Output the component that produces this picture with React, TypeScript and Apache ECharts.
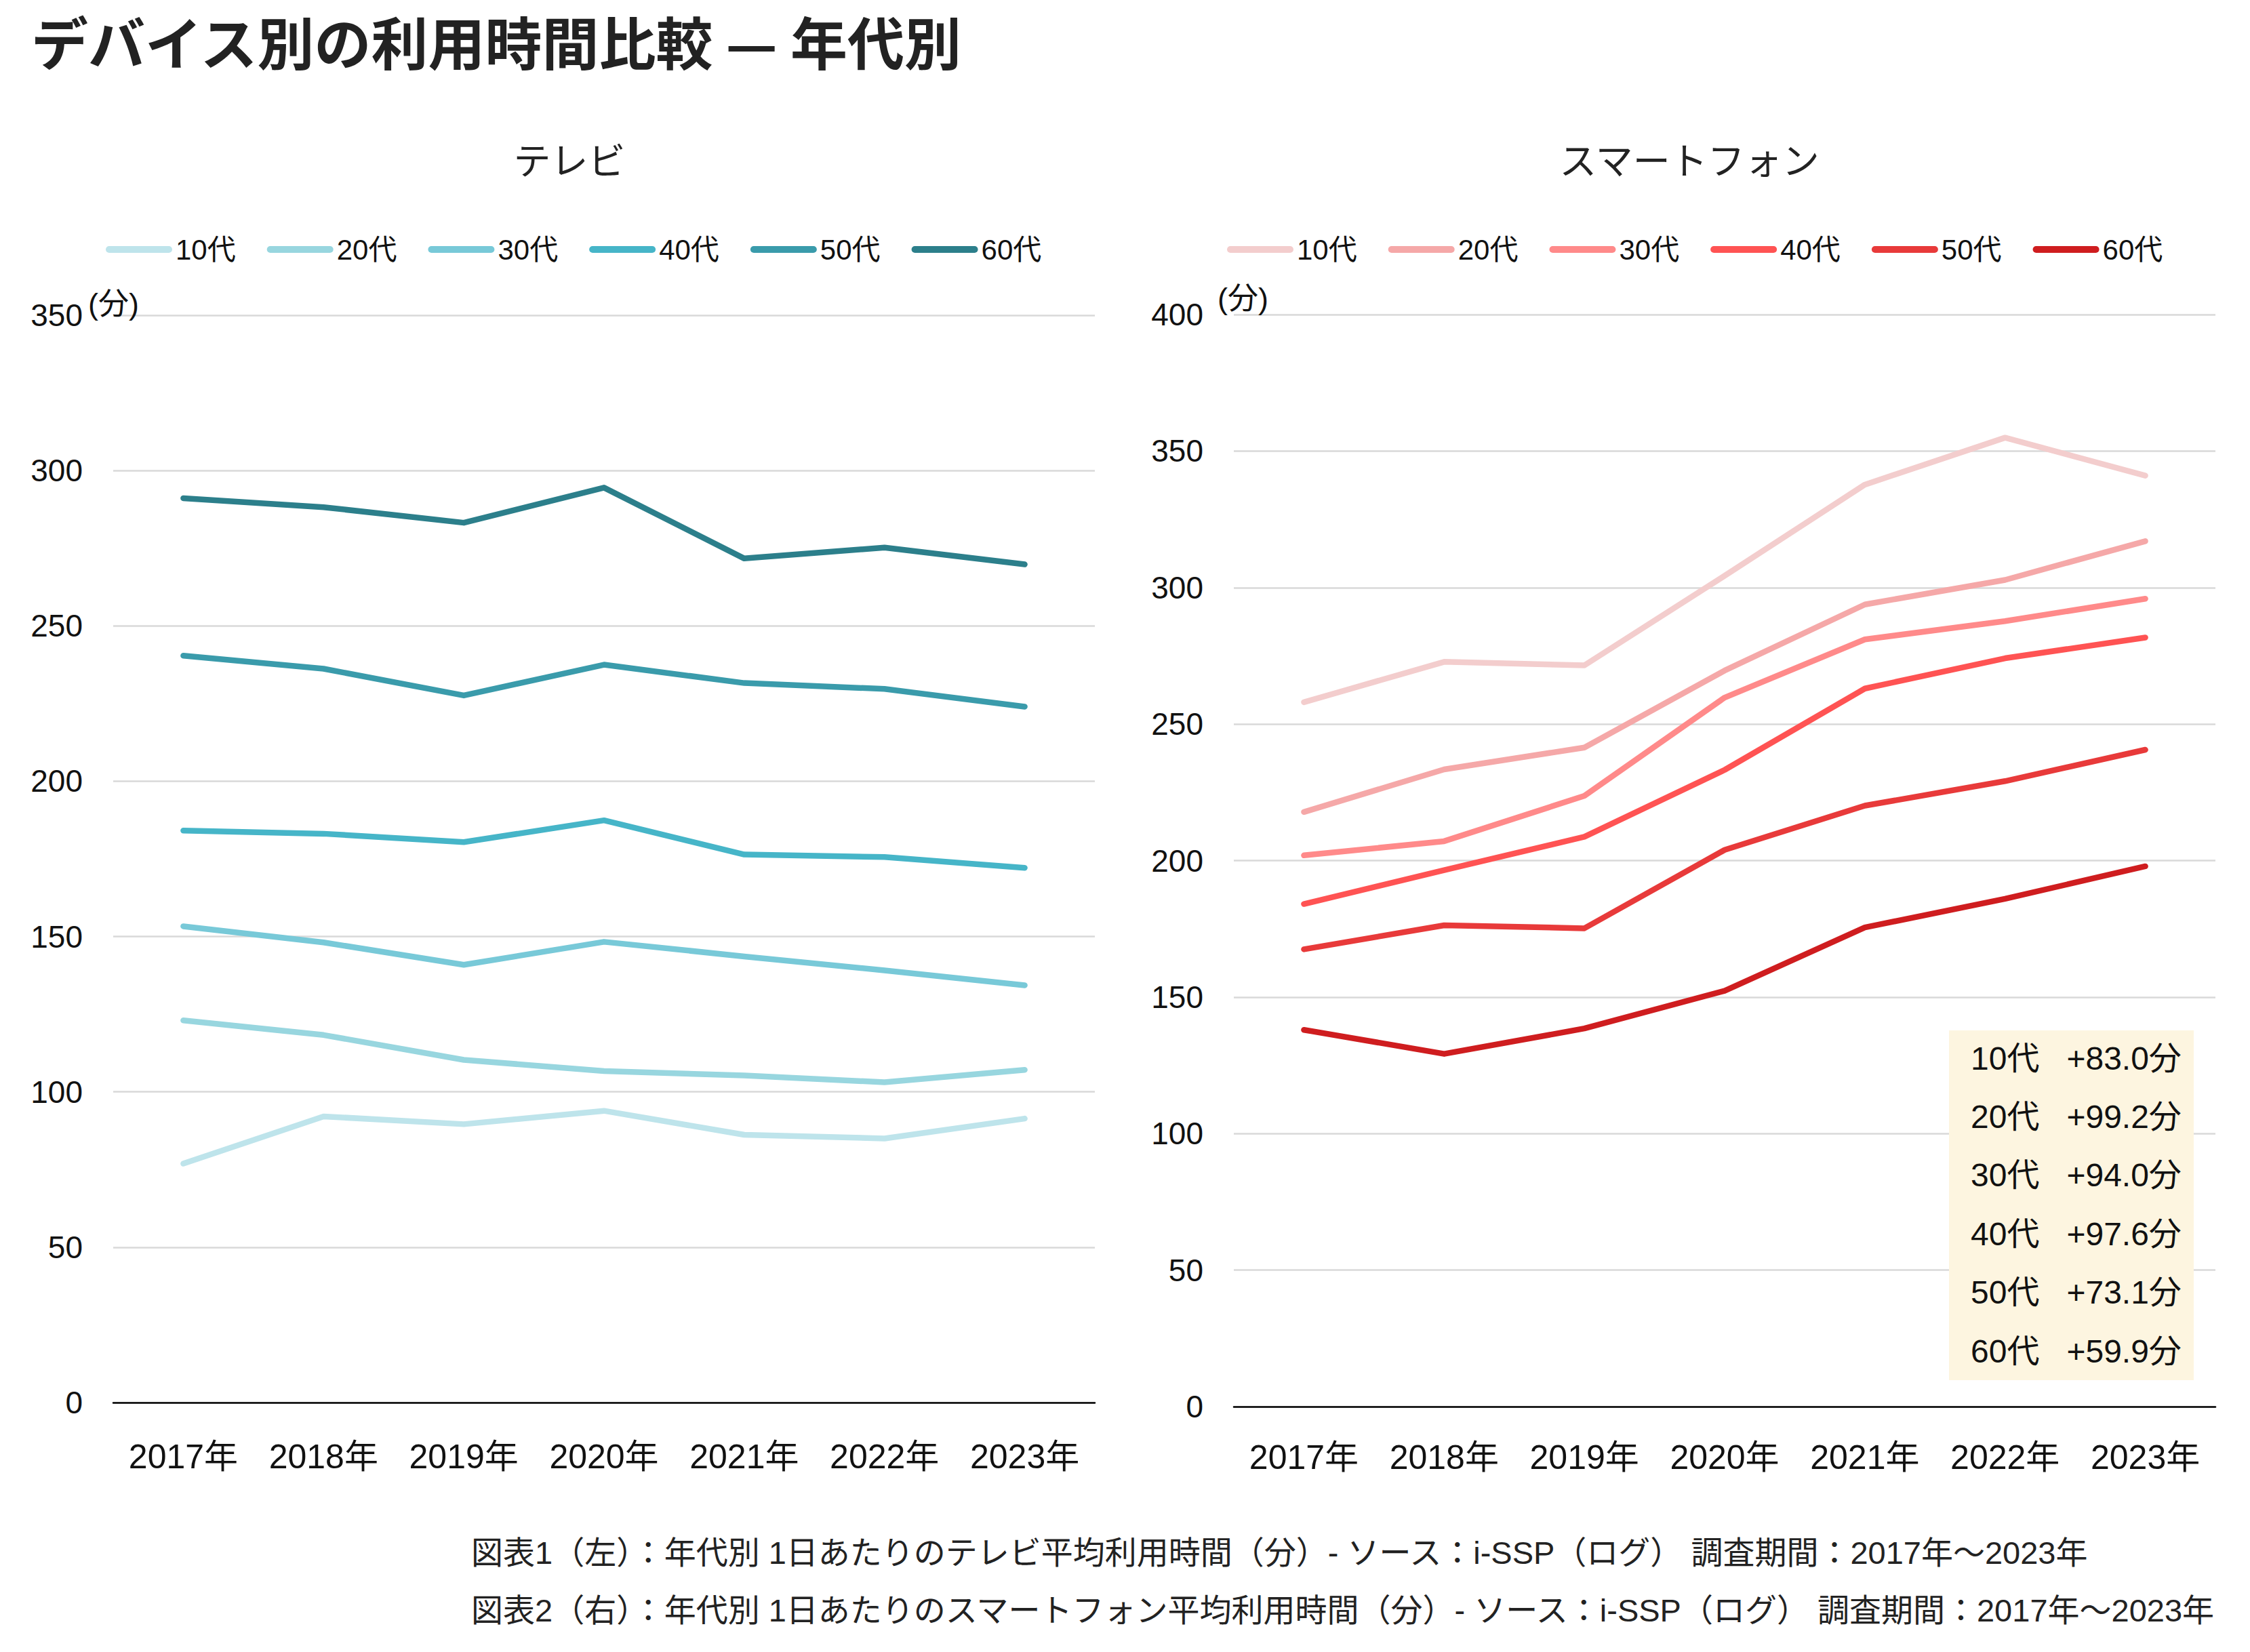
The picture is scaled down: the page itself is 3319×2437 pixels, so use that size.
import React, { useEffect, useRef } from "react";
import * as echarts from "echarts";

// Categories
const years = ["2017年", "2018年", "2019年", "2020年", "2021年", "2022年", "2023年"];
const ageGroups = ["10代", "20代", "30代", "40代", "50代", "60代"];

// TV viewing time by age group (minutes per day)
const tv10 = [76.9, 92.1, 89.6, 93.9, 86.2, 85.0, 91.4];
const tv20 = [123.0, 118.3, 110.3, 106.7, 105.3, 103.1, 107.1];
const tv30 = [153.3, 148.1, 140.9, 148.3, 143.6, 139.1, 134.3];
const tv40 = [184.1, 183.1, 180.4, 187.4, 176.4, 175.6, 172.1];
const tv50 = [240.4, 236.2, 227.6, 237.5, 231.6, 229.7, 224.0];
const tv60 = [291.1, 288.2, 283.2, 294.5, 271.7, 275.2, 269.8];

// Smartphone usage time by age group (minutes per day)
const sp10 = [258.0, 272.8, 271.5, 304.3, 337.7, 354.9, 341.0];
const sp20 = [217.8, 233.4, 241.4, 269.6, 293.8, 302.8, 317.0];
const sp30 = [201.9, 207.1, 223.7, 259.7, 281.0, 287.7, 295.9];
const sp40 = [184.1, 196.5, 208.7, 233.2, 263.0, 274.1, 281.7];
const sp50 = [167.5, 176.3, 175.2, 203.9, 220.1, 229.1, 240.6];
const sp60 = [138.0, 129.2, 138.5, 152.3, 175.5, 186.0, 197.9];

// Y-axis ranges
const tvAxisMax = 350;
const spAxisMax = 400;
const axisStep = 50;

const tvSeries = [tv10, tv20, tv30, tv40, tv50, tv60];
const spSeries = [sp10, sp20, sp30, sp40, sp50, sp60];

const tvColors = ["#bee4eb", "#98d6df", "#78c9d8", "#46b5c8", "#3a9bab", "#2c7f8b"];
const spColors = ["#f3cdcd", "#f5a8a8", "#ff8a8a", "#ff5353", "#e83a3a", "#cf1d1f"];

const TV_LABEL = "テレビ";
const SP_LABEL = "スマートフォン";

const LATIN = "'Liberation Sans', 'Noto Sans CJK JP', sans-serif";
const CJK = "'Noto Sans CJK JP', sans-serif";

const PILL = "path://M5,0L93,0A5,5,0,0,1,93,10L5,10A5,5,0,0,1,5,0Z";

function seriesName(device: string, age: string) {
  return device + "・" + age;
}

function buildOption() {
  const tvNames = ageGroups.map((a) => seriesName(TV_LABEL, a));
  const spNames = ageGroups.map((a) => seriesName(SP_LABEL, a));

  const lineSeries = (names: string[], values: number[][], colors: string[], idx: number) =>
    names.map((name, i) => ({
      name,
      type: "line",
      xAxisIndex: idx,
      yAxisIndex: idx,
      data: values[i],
      symbol: "none",
      lineStyle: { width: 8.5, color: colors[i], cap: "round", join: "round" },
      itemStyle: { color: colors[i] },
      z: 3,
    }));

  const legendBase = {
    icon: PILL,
    itemWidth: 98,
    itemHeight: 10,
    itemGap: 46,
    padding: 0,
    top: 347,
    itemStyle: { borderWidth: 0 },
    textStyle: { fontSize: 42, color: "#111", fontFamily: LATIN },
    formatter: (name: string) => name.split("・")[1],
  };

  const xAxisBase = (gridIndex: number, labelMargin: number) => ({
    type: "category",
    gridIndex,
    data: years,
    boundaryGap: true,
    z: 4,
    axisLine: { show: true, lineStyle: { color: "#000", width: 2.5 } },
    axisTick: { show: false },
    axisLabel: {
      interval: 0,
      hideOverlap: false,
      fontSize: 50,
      color: "#111",
      fontFamily: LATIN,
      margin: labelMargin,
    },
    splitLine: { show: false },
  });

  const yAxisBase = (gridIndex: number, max: number) => ({
    type: "value",
    gridIndex,
    min: 0,
    max,
    interval: axisStep,
    axisLine: { show: false },
    axisTick: { show: false },
    axisLabel: { fontSize: 46, color: "#111", fontFamily: LATIN, margin: 45 },
    splitLine: { lineStyle: { color: "#d9d9d9", width: 2.5 } },
  });

  const delta = (arr: number[]) => Math.round((arr[arr.length - 1] - arr[0]) * 10) / 10;

  const boxTexts = ageGroups.map((age, i) => ({
    type: "text",
    x: 2907,
    y: 1561 + i * 86.4,
    z: 20,
    style: {
      text: age + "   +" + delta(spSeries[i]).toFixed(1) + "分",
      fill: "#111",
      fontSize: 48,
      fontFamily: LATIN,
      align: "left",
      verticalAlign: "middle",
      textAlign: "left",
      textVerticalAlign: "middle",
    },
  }));

  const txt = (text: string, x: number, y: number, size: number, opts: any = {}) => ({
    type: "text",
    x,
    y,
    z: 20,
    style: {
      text,
      fill: opts.fill || "#222",
      fontSize: size,
      fontFamily: opts.family || CJK,
      fontWeight: opts.weight || "normal",
      align: opts.align || "left",
      verticalAlign: "middle",
      textAlign: opts.align || "left",
      textVerticalAlign: "middle",
    },
  });

  return {
    animation: false,
    backgroundColor: "#ffffff",
    grid: [
      { left: 167, top: 465, width: 1448, height: 1604 },
      { left: 1820, top: 464, width: 1448, height: 1611 },
    ],
    legend: [
      { ...legendBase, data: tvNames, left: 156 },
      { ...legendBase, data: spNames, left: 1810 },
    ],
    xAxis: [xAxisBase(0, 55), xAxisBase(1, 50)],
    yAxis: [yAxisBase(0, tvAxisMax), yAxisBase(1, spAxisMax)],
    series: [
      ...lineSeries(tvNames, tvSeries, tvColors, 0),
      ...lineSeries(spNames, spSeries, spColors, 1),
    ],
    graphic: [
      txt("デバイス別の利用時間比較 — 年代別", 46, 59, 84, { weight: "bold" }),
      txt(TV_LABEL, 840, 233, 55, { align: "center" }),
      txt(SP_LABEL, 2492, 233, 55, { align: "center" }),
      txt("(分)", 130, 448, 45, { family: LATIN, fill: "#111" }),
      txt("(分)", 1796, 440, 45, { family: LATIN, fill: "#111" }),
      {
        type: "rect",
        z: 15,
        shape: { x: 2875, y: 1520, width: 361, height: 516 },
        style: { fill: "#fdf5e0" },
      },
      ...boxTexts,
      txt(
        "図表1（左）：年代別 1日あたりのテレビ平均利用時間（分）- ソース：i-SSP（ログ） 調査期間：2017年～2023年",
        695,
        2290,
        47,
        { family: LATIN }
      ),
      txt(
        "図表2（右）：年代別 1日あたりのスマートフォン平均利用時間（分）- ソース：i-SSP（ログ） 調査期間：2017年～2023年",
        695,
        2375,
        47,
        { family: LATIN }
      ),
    ],
  };
}

export default function App() {
  const ref = useRef<HTMLDivElement>(null);

  useEffect(() => {
    document.body.style.margin = "0";
    if (!ref.current) return;
    const chart = echarts.init(ref.current, undefined, { renderer: "svg" });
    chart.setOption(buildOption() as any);
    return () => {
      chart.dispose();
    };
  }, []);

  return <div ref={ref} style={{ width: 3319, height: 2437, background: "#fff" }} />;
}
